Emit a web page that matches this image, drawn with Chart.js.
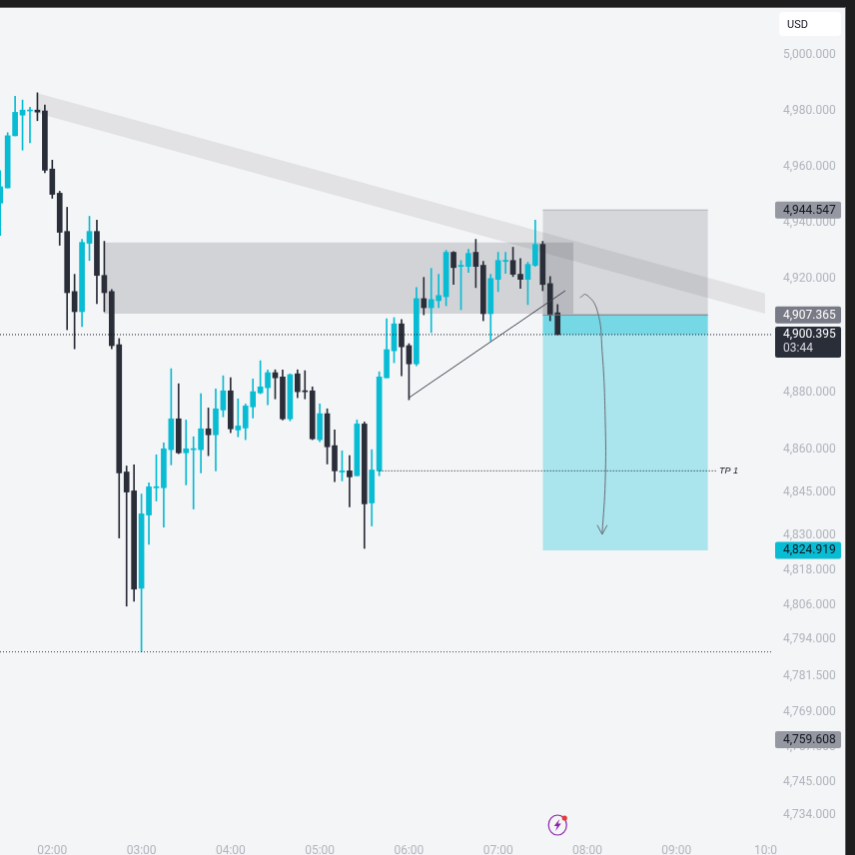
<!DOCTYPE html>
<html>
<head>
<meta charset="utf-8">
<title>Gold 5m</title>
<style>
  html, body { margin: 0; height: 100%; background: #1e1e1e; overflow: hidden; }
  #chart { position: absolute; left: 0; top: 8px; border-top: 1px solid #6a6a6a; border-right: 1px solid #6a6a6a; margin-top: -1px; }
</style>
</head>
<body>
<canvas id="chart" width="846" height="848"></canvas>
<script src="https://cdn.jsdelivr.net/npm/chart.js@4"></script>
<script>
// candle open time, minutes from 00:00
const times = [85, 90, 95, 100, 105, 110, 115, 120, 125, 130, 135, 140, 145, 150, 155, 160, 165, 170, 175, 180,
  185, 190, 195, 200, 205, 210, 215, 220, 225, 230, 235, 240, 245, 250, 255, 260, 265, 270, 275, 280,
  285, 290, 295, 300, 305, 310, 315, 320, 325, 330, 335, 340, 345, 350, 355, 360, 365, 370, 375, 380,
  385, 390, 395, 400, 405, 410, 415, 420, 425, 430, 435, 440, 445, 450, 455, 460];
const opens = [4947.0, 4952.4, 4971.0, 4978.4, 4979.9, 4980.2, 4979.9, 4959.1, 4950.5, 4936.9, 4915.6, 4908.5, 4932.7, 4936.9, 4921.3, 4915.6, 4896.8, 4852.2, 4845.6, 4811.8,
  4837.2, 4846.7, 4846.7, 4860.0, 4870.8, 4858.9, 4860.0, 4860.0, 4867.3, 4865.2, 4873.9, 4880.6, 4866.9, 4867.6, 4875.0, 4879.9, 4881.7, 4887.0, 4885.5, 4870.8,
  4886.6, 4880.6, 4880.6, 4863.5, 4872.6, 4861.4, 4852.2, 4852.6, 4850.9, 4869.0, 4841.4, 4852.6, 4885.2, 4894.7, 4904.2, 4896.5, 4890.1, 4913.1, 4909.9, 4912.4,
  4913.8, 4929.5, 4924.5, 4924.5, 4929.5, 4924.9, 4907.8, 4919.9, 4926.3, 4926.6, 4921.7, 4919.9, 4924.9, 4932.3, 4918.4, 4908.1];
const highs = [4958.5, 4972.1, 4985.2, 4983.8, 4981.2, 4986.4, 4982.0, 4962.3, 4951.2, 4945.5, 4921.7, 4934.1, 4942.3, 4940.9, 4933.4, 4916.3, 4899.0, 4854.3, 4854.7, 4844.5,
  4848.4, 4858.2, 4862.4, 4888.4, 4883.1, 4870.4, 4864.5, 4879.6, 4874.6, 4881.3, 4885.9, 4885.2, 4877.8, 4876.0, 4884.8, 4891.2, 4888.0, 4888.0, 4888.0, 4886.6,
  4888.0, 4887.7, 4882.0, 4876.0, 4874.3, 4866.9, 4859.6, 4857.9, 4870.4, 4869.7, 4860.0, 4887.3, 4906.0, 4906.4, 4905.7, 4897.2, 4917.0, 4920.6, 4923.8, 4921.7,
  4930.2, 4929.8, 4926.6, 4930.6, 4934.1, 4926.3, 4921.7, 4929.5, 4929.5, 4931.3, 4927.3, 4926.0, 4940.9, 4933.4, 4920.9, 4911.0];
const lows = [4935.5, 4952.4, 4971.0, 4965.9, 4968.5, 4976.4, 4957.8, 4948.7, 4932.0, 4902.1, 4895.4, 4903.2, 4926.6, 4911.3, 4908.5, 4895.4, 4829.2, 4805.6, 4807.3, 4789.8,
  4827.0, 4842.1, 4833.0, 4854.7, 4858.6, 4847.7, 4839.3, 4851.9, 4857.9, 4852.6, 4871.5, 4865.9, 4864.5, 4863.5, 4871.1, 4879.6, 4875.7, 4877.8, 4870.4, 4870.1,
  4878.2, 4877.8, 4863.5, 4862.8, 4855.0, 4848.8, 4849.1, 4840.0, 4850.9, 4825.6, 4833.4, 4850.9, 4885.2, 4890.5, 4885.9, 4877.5, 4889.4, 4907.4, 4901.1, 4909.9,
  4910.6, 4918.1, 4909.2, 4922.4, 4917.0, 4905.3, 4898.2, 4915.6, 4922.0, 4920.9, 4916.7, 4911.0, 4924.5, 4915.9, 4905.3, 4900.395];
const closes = [4952.8, 4971.0, 4979.4, 4980.2, 4980.2, 4979.5, 4958.7, 4950.1, 4936.6, 4915.2, 4908.5, 4933.0, 4936.9, 4921.3, 4915.2, 4896.5, 4851.9, 4845.2, 4811.5, 4837.6,
  4847.0, 4847.0, 4860.3, 4870.8, 4858.9, 4860.3, 4860.3, 4867.3, 4865.2, 4874.3, 4880.6, 4867.3, 4868.3, 4875.3, 4880.3, 4882.0, 4887.0, 4885.2, 4870.8, 4886.3,
  4880.3, 4880.3, 4863.8, 4872.6, 4861.0, 4852.6, 4852.6, 4850.5, 4869.0, 4841.1, 4852.9, 4885.5, 4895.1, 4904.2, 4896.1, 4890.1, 4913.1, 4909.9, 4912.8, 4914.2,
  4929.5, 4924.1, 4924.9, 4929.1, 4924.5, 4907.8, 4920.2, 4926.6, 4926.6, 4921.7, 4919.9, 4925.2, 4932.3, 4918.1, 4907.4, 4900.395];

const priceTicks = [5000, 4980, 4960, 4940, 4920, 4880, 4860, 4845, 4830, 4818, 4806, 4794, 4781.5, 4769, 4757, 4745, 4734];
const priceTickLabels = ['5,000.000', '4,980.000', '4,960.000', '4,940.000', '4,920.000', '4,880.000', '4,860.000', '4,845.000', '4,830.000',
  '4,818.000', '4,806.000', '4,794.000', '4,781.500', '4,769.000', '4,757.000', '4,745.000', '4,734.000'];
const timeTicks = [120, 180, 240, 300, 360, 420, 480, 540, 600];
const timeTickLabels = ['02:00', '03:00', '04:00', '05:00', '06:00', '07:00', '08:00', '09:00', '10:0'];

// drawings, in time (minutes) and price
const bandTimes = [110, 599.6];
const bandTop = [4986.3, 4914.9];
const bandBottom = [4979.1, 4907.8];
const zoneTimes = [154.7, 470.6];
const zonePrices = [4933.0, 4907.8];
const positionTimes = [450, 561.2];
const stopPrice = 4944.547;
const entryPrice = 4907.365;
const lastPrice = 4900.395;
const targetPrice = 4824.919;
const tp1Price = 4852.6;
const tp1Times = [340, 566.7];
const lowPrice = 4789.8;
const dottedTimes = [84.85, 604.3];
const trendTimes = [360, 465.2];
const trendPrices = [4878.2, 4915.9];
const arrowTimes = [475.1, 479.3, 486.7, 490, 492.1, 492.1, 490];
const arrowPrices = [4913.5, 4914.5, 4908.9, 4894.7, 4870.1, 4849.1, 4830.5];
const headTimes = [486.7, 490, 493.4];
const headPrices = [4833.7, 4830.5, 4833.7];

const UP = '#08bcd4';
const DOWN = '#2a2e39';

const pts = (xs, ys) => xs.map((x, i) => ({ x, y: ys[i] }));

function lineSet(xs, ys, color, order, extra) {
  return Object.assign({
    type: 'line', data: pts(xs, ys), borderColor: color, borderWidth: 1, pointRadius: 0, order,
  }, extra);
}

// filled area between two lines: upper one fills down to the next dataset
function areaSets(xs, top, bottom, color, order, edge) {
  return [
    lineSet(xs, top, edge || 'transparent', order, { fill: '+1', backgroundColor: color }),
    lineSet(xs, bottom, 'transparent', order),
  ];
}

const candleColors = closes.map((c, i) => (c >= opens[i] ? UP : DOWN));

const datasets = [
  ...areaSets(bandTimes, bandTop, bandBottom, 'rgba(42,46,57,0.09)', 10),
  ...areaSets(zoneTimes, [zonePrices[0], zonePrices[0]], [zonePrices[1], zonePrices[1]], 'rgba(42,46,57,0.17)', 11),
  ...areaSets(positionTimes, [stopPrice, stopPrice], [entryPrice, entryPrice], 'rgba(42,46,57,0.15)', 9, 'rgba(42,46,57,0.28)'),
  ...areaSets(positionTimes, [entryPrice, entryPrice], [targetPrice, targetPrice], 'rgba(0,188,212,0.3)', 8),
  ...areaSets(positionTimes, [entryPrice, entryPrice], [lastPrice, lastPrice], 'rgba(0,188,212,0.3)', 7),
  {
    label: 'wick',
    data: times.map((x, i) => ({ x, y: [lows[i], highs[i]] })),
    backgroundColor: candleColors,
    barThickness: 1,
    grouped: false,
    order: 5,
  },
  {
    label: 'body',
    data: times.map((x, i) => ({ x, y: [opens[i], closes[i]] })),
    backgroundColor: candleColors,
    barThickness: 5,
    minBarLength: 1,
    grouped: false,
    order: 4,
  },
  lineSet(positionTimes, [entryPrice, entryPrice], '#747a85', 3),
  lineSet(dottedTimes, [lastPrice, lastPrice], '#131722', 3, { borderDash: [1, 2] }),
  lineSet(dottedTimes, [lowPrice, lowPrice], '#3b3f4a', 3, { borderDash: [1, 2] }),
  lineSet(tp1Times, [tp1Price, tp1Price], '#131722', 3, { borderDash: [1, 2] }),
  lineSet(trendTimes, trendPrices, '#3f424d', 2),
  lineSet(arrowTimes, arrowPrices, '#6a6e79', 2, { tension: 0.45 }),
  lineSet(headTimes, headPrices, '#6a6e79', 2),
];

function roundedTag(ctx, x, y, w, h, fill, radius) {
  ctx.fillStyle = fill;
  ctx.beginPath();
  ctx.roundRect(x, y, w, h, radius || 2);
  ctx.fill();
}

const overlayPlugin = {
  id: 'overlay',
  beforeDraw(chart) {
    const { ctx, width, height } = chart;
    ctx.save();
    ctx.fillStyle = '#f4f5f7';
    ctx.fillRect(0, 0, width, height);
    ctx.restore();
  },
  afterDraw(chart) {
    const { ctx, chartArea } = chart;
    const yScale = chart.scales.y;
    const xScale = chart.scales.x;
    const tagX = chartArea.right + 1;
    const textX = chartArea.right + 9;
    ctx.save();
    ctx.font = '12px Roboto';
    ctx.textBaseline = 'middle';
    ctx.textAlign = 'left';

    const tags = [
      [stopPrice, '4,944.547', '#9598a1', '#131722'],
      [entryPrice, '4,907.365', '#787b86', '#ffffff'],
      [targetPrice, '4,824.919', '#08bcd4', '#131722'],
      [4759.608, '4,759.608', '#9598a1', '#131722'],
    ];
    tags.forEach(([price, text, fill, color]) => {
      const y = yScale.getPixelForValue(price);
      roundedTag(ctx, tagX, y - 8.5, 66, 17, fill);
      ctx.fillStyle = color;
      ctx.fillText(text, textX, y + 0.5);
    });

    const lastY = yScale.getPixelForValue(lastPrice);
    roundedTag(ctx, tagX, lastY - 8, 66, 31, '#2a2e39');
    ctx.fillStyle = '#ffffff';
    ctx.fillText('4,900.395', textX, lastY + 0.5);
    ctx.fillStyle = '#d6d8de';
    ctx.fillText('03:44', textX, lastY + 14.5);

    // currency button
    roundedTag(ctx, chartArea.right + 5, 4, 62, 24, '#ffffff', 4);
    ctx.fillStyle = '#131722';
    ctx.font = '11px Roboto';
    ctx.fillText('USD', chartArea.right + 13, 17);

    // TP label
    ctx.font = 'italic 9px "Liberation Sans"';
    ctx.fillStyle = '#131722';
    ctx.fillText('TP 1', xScale.getPixelForValue(tp1Times[1]) + 3, yScale.getPixelForValue(tp1Price) + 0.5);

    // event marker under the last candle
    const mx = xScale.getPixelForValue(times[times.length - 1]);
    const my = chartArea.bottom - 15;
    ctx.strokeStyle = '#8e24aa';
    ctx.lineWidth = 1.2;
    ctx.beginPath();
    ctx.ellipse(mx, my, 9, 10, 0, 0, Math.PI * 2);
    ctx.stroke();
    ctx.fillStyle = '#8e24aa';
    ctx.beginPath();
    ctx.moveTo(mx + 2, my - 6);
    ctx.lineTo(mx - 3.5, my + 1);
    ctx.lineTo(mx - 0.5, my + 1);
    ctx.lineTo(mx - 2, my + 6);
    ctx.lineTo(mx + 3.5, my - 1.5);
    ctx.lineTo(mx + 0.5, my - 1.5);
    ctx.closePath();
    ctx.fill();
    ctx.fillStyle = '#e53935';
    ctx.beginPath();
    ctx.arc(mx + 7, my - 7, 2.6, 0, Math.PI * 2);
    ctx.fill();
    ctx.restore();
  },
};

const tickFont = { family: 'Roboto', size: 12 };

// no room reserved for labels that overflow the plot edges
function fitScale(scale, size) {
  if (scale.isHorizontal()) scale.height = size;
  else scale.width = size;
  scale.paddingTop = 0;
  scale.paddingBottom = 0;
  scale.paddingLeft = 0;
  scale.paddingRight = 0;
}

new Chart(document.getElementById('chart'), {
  type: 'bar',
  data: { datasets },
  plugins: [overlayPlugin],
  options: {
    responsive: false,
    animation: false,
    events: [],
    layout: { padding: 0 },
    plugins: { legend: { display: false }, tooltip: { enabled: false } },
    scales: {
      x: {
        type: 'linear',
        offset: false,
        min: 84.85,
        max: 605.7,
        grid: { display: false, drawTicks: false },
        border: { display: false },
        afterFit(scale) { fitScale(scale, 15); },
        afterBuildTicks(scale) { scale.ticks = timeTicks.map((value) => ({ value })); },
        ticks: {
          color: '#b2b5be',
          font: tickFont,
          padding: 4,
          maxRotation: 0,
          autoSkip: false,
          callback: (value) => timeTickLabels[timeTicks.indexOf(value)],
        },
      },
      y: {
        type: 'logarithmic',
        position: 'right',
        bounds: 'data',
        min: 4725.4,
        max: 5016.9,
        grid: { display: false, drawTicks: false },
        border: { display: false },
        afterFit(scale) { fitScale(scale, 71); },
        afterBuildTicks(scale) { scale.ticks = priceTicks.map((value) => ({ value })); },
        ticks: {
          color: '#b2b5be',
          font: tickFont,
          padding: 9,
          autoSkip: false,
          callback: (value) => priceTickLabels[priceTicks.indexOf(value)],
        },
      },
    },
  },
});
</script>
</body>
</html>
